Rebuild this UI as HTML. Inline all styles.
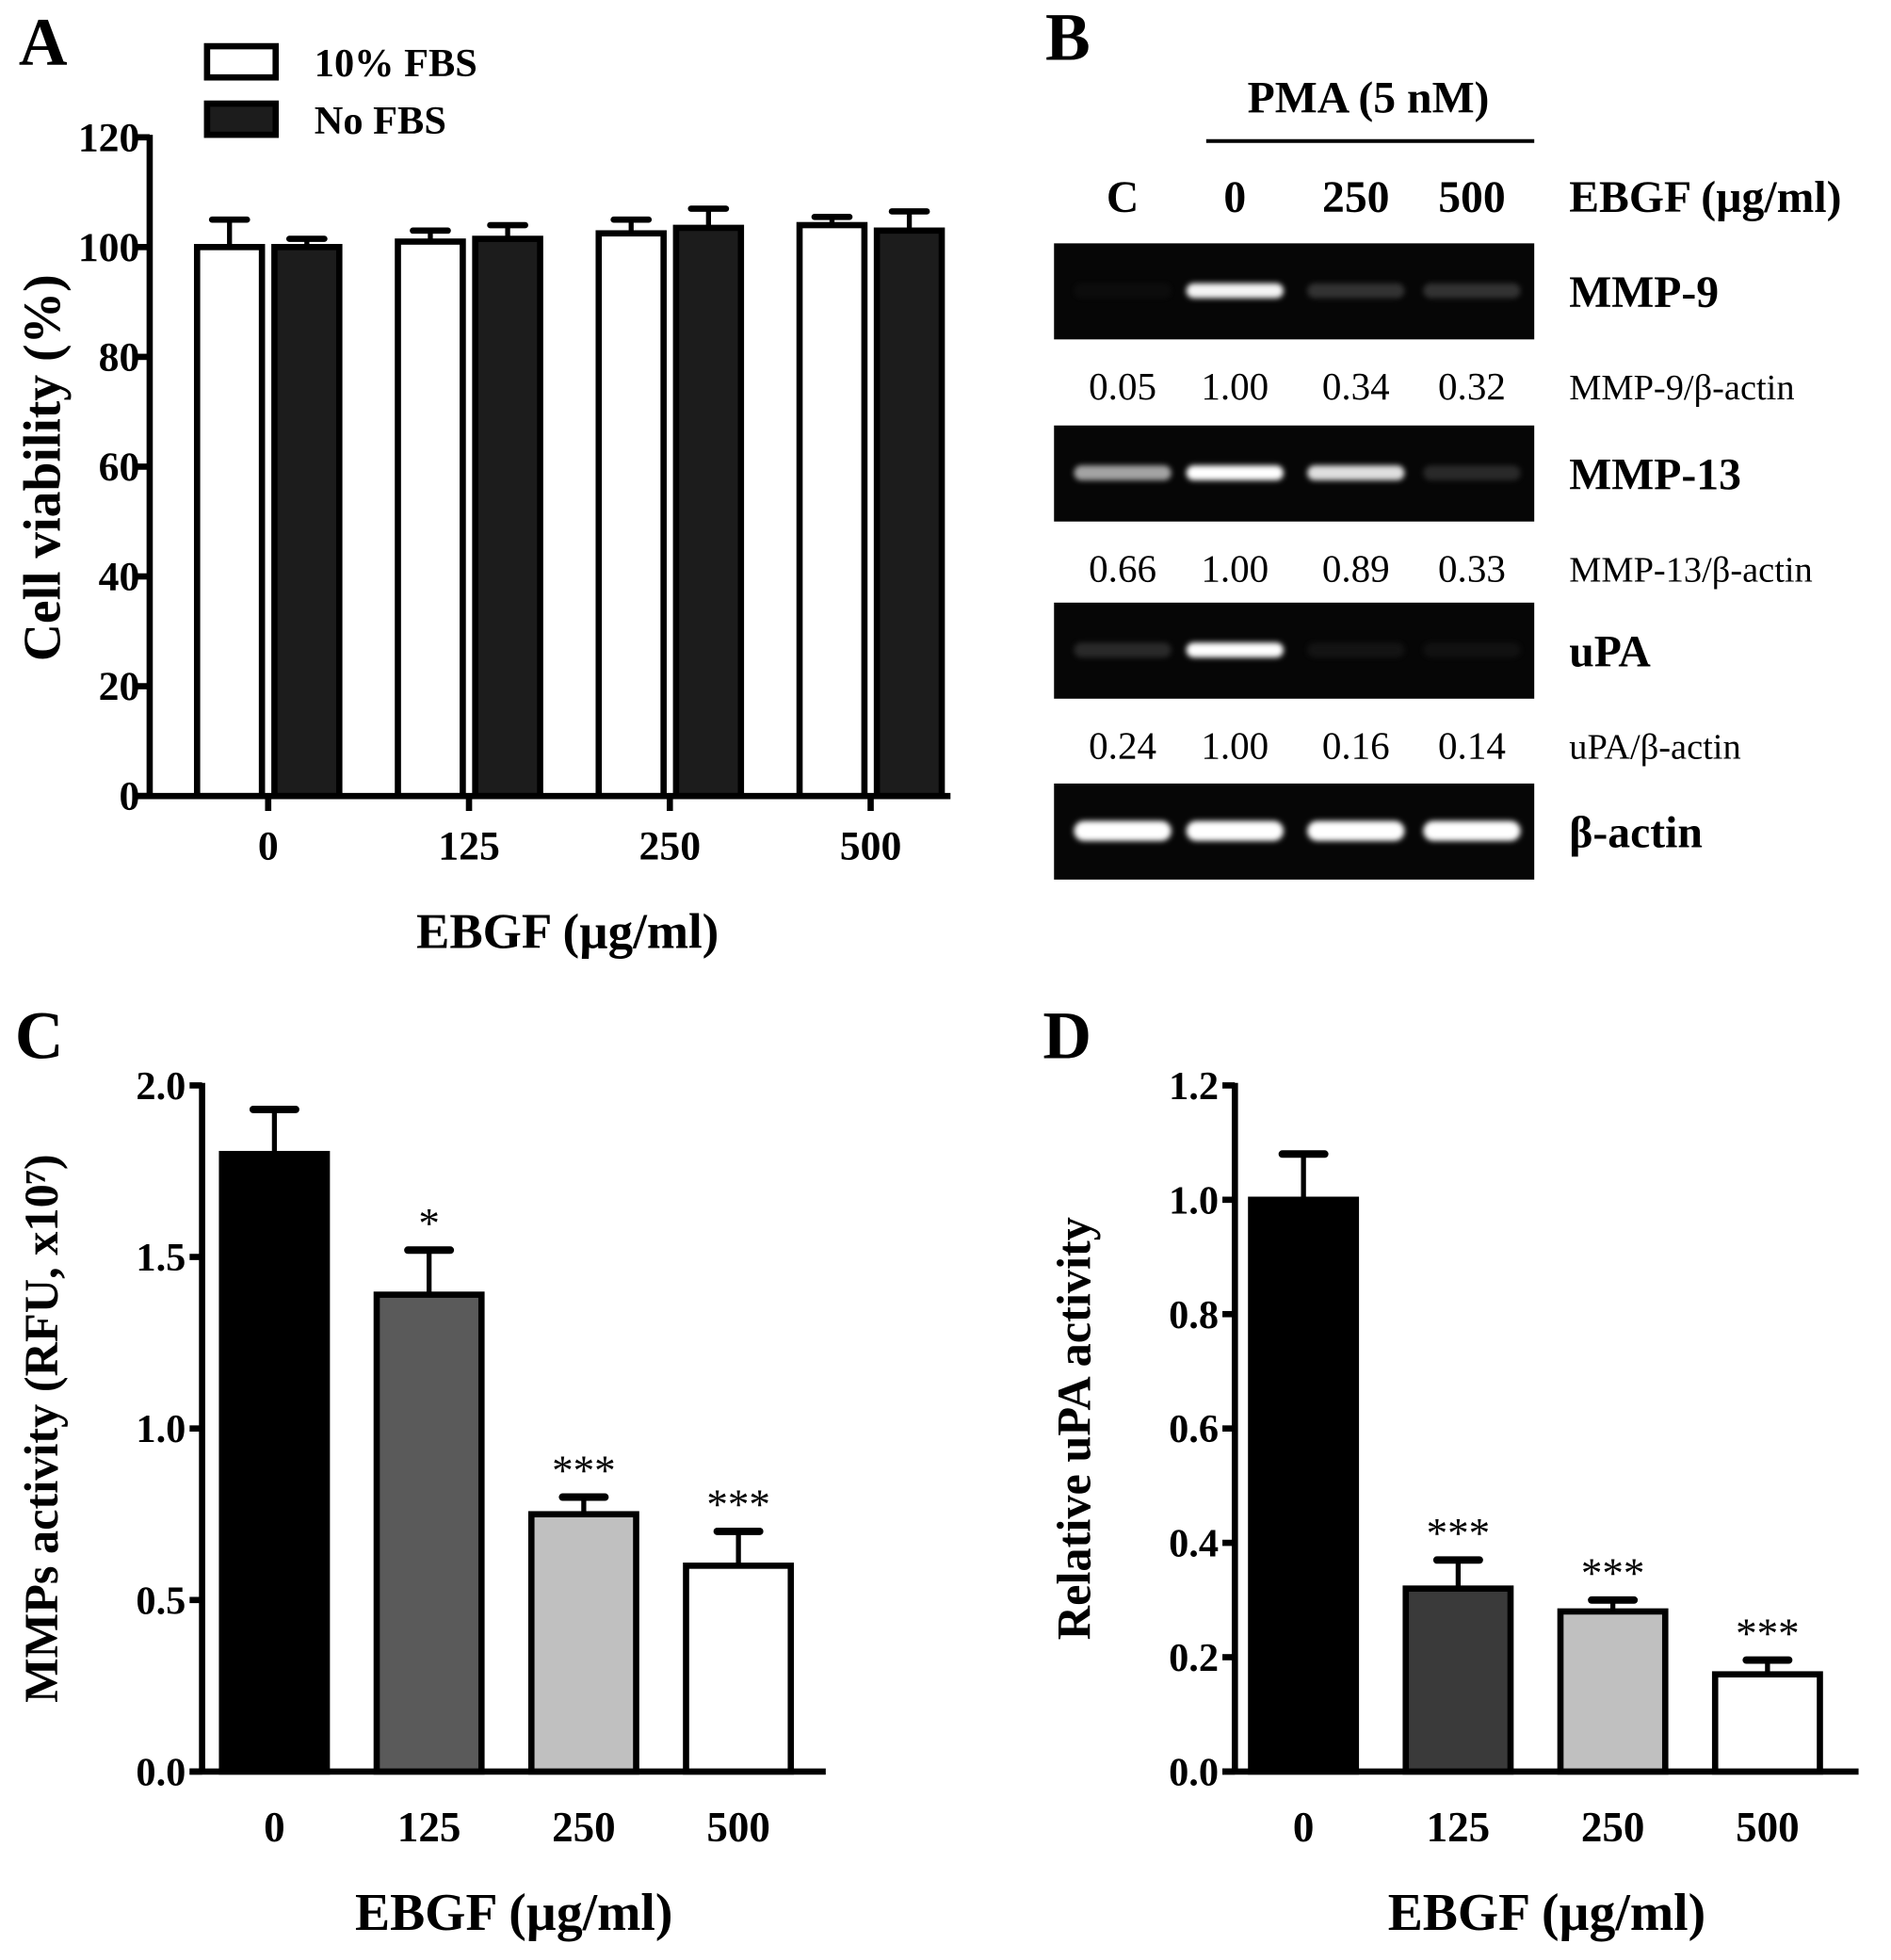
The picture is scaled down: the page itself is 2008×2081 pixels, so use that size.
<!DOCTYPE html>
<html><head><meta charset="utf-8"><style>
html,body{margin:0;padding:0;background:#fff}
svg{display:block}
text{font-family:"Liberation Serif",serif}
</style></head><body>
<svg id="fig" width="2008" height="2081" viewBox="0 0 1516 1571" xmlns="http://www.w3.org/2000/svg">
<defs>
<filter id="blur" x="-20%" y="-100%" width="140%" height="300%"><feGaussianBlur stdDeviation="2.2"/></filter>
</defs>
<g id="root"></g>
</svg>
<script>
// ---- Panel A data
const catsA = ["0","125","250","500"];
const fbs10 = [100, 101, 102.5, 104];
const fbs10Err = [5, 2, 2.5, 1.5];
const noFbs = [100, 101.5, 103.5, 103];
const noFbsErr = [1.5, 2.5, 3.5, 3.5];
const ticksA = [0,20,40,60,80,100,120];
// ---- Panel C data
const catsC = ["0","125","250","500"];
const mmpVals = [1.80, 1.39, 0.75, 0.60];
const mmpErr = [0.13, 0.13, 0.05, 0.10];
const mmpStars = ["", "*", "***", "***"];
const ticksC = ["0.0","0.5","1.0","1.5","2.0"];
// ---- Panel D data
const catsD = ["0","125","250","500"];
const upaVals = [1.00, 0.32, 0.28, 0.17];
const upaErr = [0.08, 0.05, 0.02, 0.025];
const upaStars = ["", "***", "***", "***"];
const ticksD = ["0.0","0.2","0.4","0.6","0.8","1.0","1.2"];
// ---- Panel B data
const laneLabels = ["C","0","250","500"];
const mmp9Ratio = ["0.05","1.00","0.34","0.32"];
const mmp13Ratio = ["0.66","1.00","0.89","0.33"];
const upaRatio = ["0.24","1.00","0.16","0.14"];
const mmp9Int = [0.02, 0.95, 0.3, 0.3];
const mmp13Int = [0.7, 1.0, 0.85, 0.25];
const upaInt = [0.25, 1.0, 0.1, 0.08];
const actinInt = [1,1,1,1];

const NS="http://www.w3.org/2000/svg";
const root=document.getElementById('root');
function el(tag,attrs,parent,txt){const e=document.createElementNS(NS,tag);for(const k in attrs)e.setAttribute(k,attrs[k]);if(txt!==undefined)e.textContent=txt;(parent||root).appendChild(e);return e;}
function txt(x,y,s,size,opts,parent){opts=opts||{};const t=el('text',{x:x,y:y,'font-size':size,'font-weight':opts.w||'bold','text-anchor':opts.a||'middle',fill:'#000'},parent,s);if(opts.tr)t.setAttribute('transform',opts.tr);return t;}

// Panel A
const gA=el('g',{});


const yA=v=>638-(v/120)*528;
const xA0=120;
const groupCentersA=i=>215+i*161;
el('line',{x1:xA0,y1:108,x2:xA0,y2:640,stroke:'#000','stroke-width':5},gA);
el('line',{x1:xA0-10,y1:638,x2:762,y2:638,stroke:'#000','stroke-width':5},gA);
ticksA.forEach(v=>{el('line',{x1:xA0-10,y1:yA(v),x2:xA0,y2:yA(v),stroke:'#000','stroke-width':5},gA);const t=txt(112,yA(v)+11,String(v),33,{a:'end'},gA);});
catsA.forEach((c,i)=>{const cx=groupCentersA(i);
el('line',{x1:cx,y1:638,x2:cx,y2:650,stroke:'#000','stroke-width':5},gA);
txt(cx,689,c,33,{},gA);
[[fbs10,fbs10Err,'#fff',-57],[noFbs,noFbsErr,'#1c1c1c',5]].forEach(([vals,errs,fill,off],s)=>{
 const x=cx+off, w=52, y=yA(vals[i]);
 el('line',{x1:x+w/2,y1:y,x2:x+w/2,y2:yA(vals[i]+errs[i]),stroke:'#000','stroke-width':4},gA);
 el('line',{x1:x+w/2-14,y1:yA(vals[i]+errs[i]),x2:x+w/2+14,y2:yA(vals[i]+errs[i]),stroke:'#000','stroke-width':5,'stroke-linecap':'round'},gA);
 const r=el('rect',{x:x,y:y,width:w,height:638-y,fill:fill,stroke:'#000','stroke-width':5},gA);
 
 
});});
let t;
t=txt(48,375,'Cell viability (%)',42,{tr:'rotate(-90 48 375)'},gA);
t=txt(455,760,'EBGF (µg/ml)',40,{},gA);
t=txt(15,52,'A',54,{a:'start'},gA);
const lg=el('g',{},gA);
el('rect',{x:166,y:37,width:55,height:25,fill:'#fff',stroke:'#000','stroke-width':5},lg);
el('rect',{x:166,y:83,width:55,height:25,fill:'#1c1c1c',stroke:'#000','stroke-width':5},lg);
txt(252,61,'10% FBS',32,{a:'start'},lg);
txt(252,107,'No FBS',32,{a:'start'},lg);

// Panel B
const gB=el('g',{});


t=txt(838,48,'B',54,{a:'start'},gB);
txt(1097,90,'PMA (5 nM)',36,{},gB);
el('line',{x1:967,y1:113,x2:1230,y2:113,stroke:'#000','stroke-width':3},gB);
const laneX=[900,990,1087,1180];
laneLabels.forEach((l,i)=>txt(laneX[i],170,l,36,{},gB));
txt(1258,170,'EBGF (µg/ml)',36,{a:'start'},gB);
function gel(y,ints,label,ratio,ratioLabel,thick){
 const g=el('g',{},gB);
 
 
 el('rect',{x:845,y:y,width:385,height:77,fill:'#060606'},g);
 ints.forEach((v,i)=>{const c=Math.round(40+215*v);
  el('rect',{x:laneX[i]-39,y:y+38-(thick/2),width:78,height:thick,rx:thick/2,fill:`rgb(${c},${c},${c})`,opacity:Math.min(1,0.15+v),filter:'url(#blur)'},g);});
 txt(1258,y+51,label,36,{a:'start'},gB);
 if(ratio){ratio.forEach((r,i)=>txt(laneX[i],y+125,r,31,{w:'normal'},gB));txt(1258,y+125,ratioLabel,29,{a:'start',w:'normal'},gB);}
}
gel(195,mmp9Int,'MMP-9',mmp9Ratio,'MMP-9/β-actin',12);
gel(341,mmp13Int,'MMP-13',mmp13Ratio,'MMP-13/β-actin',12);
gel(483,upaInt,'uPA',upaRatio,'uPA/β-actin',12);
gel(628,actinInt,'β-actin',null,'',16);

// Generic single-bar panel
function barPanel(opts){
 const g=el('g',{});
 
 
 const y0=1420,ytop=870;
 const y=v=>y0-(v/opts.max)*(y0-ytop);
 el('line',{x1:opts.ax,y1:ytop-2,x2:opts.ax,y2:y0+2,stroke:'#000','stroke-width':5},g);
 el('line',{x1:opts.ax-10,y1:y0,x2:opts.ax+500,y2:y0,stroke:'#000','stroke-width':5},g);
 opts.ticks.forEach(s=>{const v=parseFloat(s);el('line',{x1:opts.ax-10,y1:y(v),x2:opts.ax,y2:y(v),stroke:'#000','stroke-width':5},g);txt(opts.ax-13,y(v)+11,s,32,{a:'end'},g);});
 opts.cats.forEach((c,i)=>{const x=opts.bx+i*124,w=84,yv=y(opts.vals[i]),ye=y(opts.vals[i]+opts.errs[i]);
  el('line',{x1:x+w/2,y1:yv,x2:x+w/2,y2:ye,stroke:'#000','stroke-width':4},g);
  el('line',{x1:x+w/2-17,y1:ye,x2:x+w/2+17,y2:ye,stroke:'#000','stroke-width':6,'stroke-linecap':'round'},g);
  const r=el('rect',{x:x,y:yv,width:w,height:y0-yv,fill:opts.fills[i],stroke:'#000','stroke-width':5},g);
  
  
  if(opts.stars[i]) txt(x+w/2,ye-10,opts.stars[i],34,{w:'normal'},g);
  txt(x+w/2,1476,c,34,{},g);
 });
 txt(opts.tx,opts.ty,opts.title,opts.tsize,{tr:`rotate(-90 ${opts.tx} ${opts.ty})`},g);
 txt(opts.ax+250,1547,'EBGF (µg/ml)',42,{},g);
 txt(opts.lx,848,opts.label,54,{a:'start'},g);
}
barPanel({name:'panel-c-chart',short:'mmp',ax:162,bx:178,max:2.0,ticks:ticksC,cats:catsC,vals:mmpVals,errs:mmpErr,stars:mmpStars,fills:['#000','#5a5a5a','#c0c0c0','#fff'],title:'MMPs activity (RFU, x10⁷)',tsize:38,tx:46,ty:1145,label:'C',lx:12});
barPanel({name:'panel-d-chart',short:'upa',ax:990,bx:1003,max:1.2,ticks:ticksD,cats:catsD,vals:upaVals,errs:upaErr,stars:upaStars,fills:['#000','#3a3a3a','#c0c0c0','#fff'],title:'Relative uPA activity',tsize:38,tx:874,ty:1145,label:'D',lx:836});
</script>
</body></html>
